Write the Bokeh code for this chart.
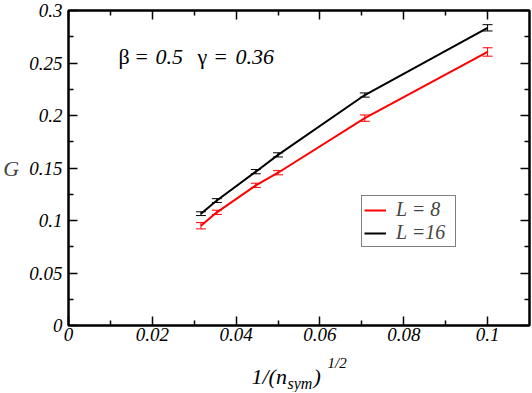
from bokeh.plotting import figure
from bokeh.layouts import column
from bokeh.models import (Range1d, LinearAxis, FixedTicker, Whisker, TeeHead,
                          ColumnDataSource, Legend, LegendItem, Label,
                          CustomJSTickFormatter)
from bokeh.embed import file_html
from bokeh.resources import INLINE

# ---- data ----
x_vals = [0.0316, 0.0354, 0.0447, 0.05, 0.0707, 0.1]
g_L8 = [0.0950, 0.1078, 0.1335, 0.1455, 0.1975, 0.2605]
err_L8 = [0.003, 0.002, 0.002, 0.002, 0.003, 0.004]
g_L16 = [0.1065, 0.1190, 0.1465, 0.1625, 0.2195, 0.2835]
err_L16 = [0.0018, 0.0018, 0.002, 0.002, 0.002, 0.003]

x_major = [0, 0.02, 0.04, 0.06, 0.08, 0.1]
x_minor = [0.01, 0.03, 0.05, 0.07, 0.09]
y_major = [0, 0.05, 0.1, 0.15, 0.2, 0.25, 0.3]
y_minor = [0.025, 0.075, 0.125, 0.175, 0.225, 0.275]

series_labels = ["L = 8", "L =16"]

W, H1, H2 = 531, 347, 45
BL, BR, BT, BB = 65, 2, 10, 22
FONT = "Liberation Serif"

p = figure(width=W, height=H1, output_backend="svg", toolbar_location=None,
           x_range=Range1d(0, 0.11), y_range=Range1d(0, 0.3),
           min_border_left=BL, min_border_right=BR, min_border_top=BT,
           min_border_bottom=BB)
p.xgrid.visible = False
p.ygrid.visible = False
p.outline_line_color = "black"
p.outline_line_width = 2
p.background_fill_color = "white"
p.border_fill_color = "white"

fmt = CustomJSTickFormatter(code="return String(Number(tick.toFixed(4)));")
blank = CustomJSTickFormatter(code="return '';")


def style_axis(ax, major, minor, labels=True):
    ax.ticker = FixedTicker(ticks=major, minor_ticks=minor)
    ax.formatter = fmt if labels else blank
    ax.major_tick_in = 9
    ax.major_tick_out = 0
    ax.minor_tick_in = 5
    ax.minor_tick_out = 0
    ax.axis_line_width = 2
    ax.major_tick_line_width = 1.5
    ax.minor_tick_line_width = 1.5
    ax.major_label_text_font = FONT
    ax.major_label_text_font_style = "italic"
    ax.major_label_text_color = "black"
    ax.major_label_text_font_size = "19px"
    ax.major_label_text_line_height = 1.0
    if not labels:
        ax.major_label_standoff = 0


xb = p.xaxis[0]
style_axis(xb, x_major, x_minor)
xb.major_label_standoff = 2

yl = p.yaxis[0]
style_axis(yl, y_major, y_minor)
yl.major_label_standoff = 6
yl.axis_label = "G"
yl.axis_label_orientation = "horizontal"
yl.axis_label_text_font = FONT
yl.axis_label_text_font_style = "italic"
yl.axis_label_text_font_size = "22px"
yl.axis_label_standoff = 7

xt = LinearAxis()
style_axis(xt, x_major, x_minor, labels=False)
p.add_layout(xt, "above")
yr = LinearAxis()
style_axis(yr, y_major, y_minor, labels=False)
p.add_layout(yr, "right")

# ---- series ----
src8 = ColumnDataSource(dict(x=x_vals, y=g_L8,
                             lo=[g - e for g, e in zip(g_L8, err_L8)],
                             hi=[g + e for g, e in zip(g_L8, err_L8)]))
src16 = ColumnDataSource(dict(x=x_vals, y=g_L16,
                              lo=[g - e for g, e in zip(g_L16, err_L16)],
                              hi=[g + e for g, e in zip(g_L16, err_L16)]))

r16 = p.line("x", "y", source=src16, line_color="black", line_width=2)
r8 = p.line("x", "y", source=src8, line_color="#ff0000", line_width=2)

for src, col in ((src16, "black"), (src8, "#ff0000")):
    w = Whisker(source=src, base="x", upper="hi", lower="lo",
                line_color=col, line_width=1,
                upper_head=TeeHead(size=10, line_color=col, line_width=1),
                lower_head=TeeHead(size=10, line_color=col, line_width=1))
    p.add_layout(w)

# frame position on the page (Bokeh's page template has no body margin)
FL = BL
FB = H1 - BB

legend = Legend(items=[LegendItem(label=series_labels[0], renderers=[r8]),
                       LegendItem(label=series_labels[1], renderers=[r16])],
                location=(358 - FL, FB - 247))
legend.border_line_color = "black"
legend.border_line_width = 1.5
legend.background_fill_color = "white"
legend.background_fill_alpha = 1
legend.padding = 2
legend.spacing = 0
legend.margin = 0
legend.glyph_width = 22
legend.glyph_height = 18
legend.label_height = 18
legend.label_width = 57
legend.label_standoff = 10
legend.label_text_font = FONT
legend.label_text_font_style = "italic"
legend.label_text_font_size = "20px"
legend.label_text_line_height = 1.0
p.add_layout(legend)


def frame_text(px, py, text, size, italic=True):
    # page coordinates -> frame-relative screen units
    p.add_layout(Label(x=px - FL, y=FB - py, x_units="screen", y_units="screen",
                       text=text, text_font=FONT, text_font_size=size,
                       text_font_style="italic" if italic else "normal",
                       text_baseline="alphabetic", text_align="left",
                       text_line_height=1.0, text_color="black"))


frame_text(115, 56, "β", "22px", italic=False)
frame_text(132, 56, "=", "22px", italic=False)
frame_text(152, 56, "0.5", "22px")
frame_text(194, 56, "γ", "22px", italic=False)
frame_text(211, 56, "=", "22px", italic=False)
frame_text(232, 56, "0.36", "22px")

# ---- x-axis title strip (sub/superscripts) ----
q = figure(width=W, height=H2, output_backend="svg", toolbar_location=None,
           x_range=Range1d(0, 1), y_range=Range1d(0, 1),
           x_axis_type=None, y_axis_type=None,
           min_border_left=BL, min_border_right=BR, min_border_top=0,
           min_border_bottom=0)
q.xgrid.visible = False
q.ygrid.visible = False
q.outline_line_color = None
q.background_fill_color = "white"
q.border_fill_color = "white"

Q_BOT = H1 + H2


def strip_text(px, py, text, size):
    q.add_layout(Label(x=px - BL, y=Q_BOT - py, x_units="screen", y_units="screen",
                       text=text, text_font=FONT, text_font_size=size,
                       text_font_style="italic",
                       text_baseline="alphabetic", text_align="left",
                       text_line_height=1.0, text_color="black"))


strip_text(248, 376, "1/(n", "22px")
strip_text(284, 383, "sym", "16px")
strip_text(310, 376, ")", "22px")
strip_text(324, 362, "1/2", "15px")

layout = column(p, q, spacing=0)
open("out.html", "w").write(file_html(layout, INLINE))
